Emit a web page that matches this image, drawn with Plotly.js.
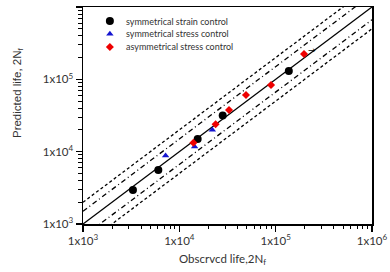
<!DOCTYPE html>
<html><head><meta charset="utf-8">
<script src="https://cdn.plot.ly/plotly-3.0.1.min.js"></script>
<style>html,body{margin:0;padding:0;background:#fff}#c{width:390px;height:272px}</style>
</head><body><div id="c"></div>
<script>
// Data
const strainX = [3300, 6050, 15500, 28200, 137000];
const strainY = [2950, 5600, 15000, 31500, 130000];
const stressX = [7200, 14400, 22000];
const stressY = [8800, 11700, 20000];
const asymX = [14000, 23800, 32800, 49200, 89500, 197000];
const asymY = [13300, 23900, 37700, 60700, 83500, 224000];
const bandFactors = [2, 1.5, 1, 1/1.5, 0.5];
const legendNames = ['symmetrical strain control', 'symmetrical stress control', 'asymmetrical stress control'];
const decades = [1e3, 1e4, 1e5, 1e6];
const decadeLabels = ['1x10<sup>3</sup>', '1x10<sup>4</sup>', '1x10<sup>5</sup>', '1x10<sup>6</sup>'];

const FONT = 'Lato, Open Sans, sans-serif';
const lineStyles = {2: '3px,2.5px', 1.5: '5px,3px,1px,3px', 1: 'solid'};
const span = [1e3, 1e6];
const traces = [];
bandFactors.forEach(f => {
  const key = f >= 1 ? f : +(1 / f).toFixed(2);
  traces.push({
    x: span, y: span.map(v => v * f), mode: 'lines', showlegend: false, hoverinfo: 'skip',
    line: {color: '#000', width: 1.3, dash: lineStyles[key]}
  });
});
const markerStyles = [
  {symbol: 'circle', size: 8, color: '#000'},
  {symbol: 'triangle-up', size: 6.5, color: '#1515d0'},
  {symbol: 'diamond', size: 6.2, color: '#ee0000'}
];
[[strainX, strainY], [stressX, stressY], [asymX, asymY]].forEach((d, i) => {
  traces.push({x: d[0], y: d[1], mode: 'markers', name: legendNames[i], showlegend: false,
    marker: markerStyles[i]});
});
// manual legend (markers on an overlay axis, labels as annotations)
const legY = [0.935, 0.876, 0.816];
const legMarkerX = 0.093, legTextX = 0.142;
legendNames.forEach((n, i) => {
  traces.push({x: [legMarkerX], y: [legY[i]], xaxis: 'x2', yaxis: 'y2', mode: 'markers',
    showlegend: false, hoverinfo: 'skip', marker: markerStyles[i]});
});

const minorVals = [];
for (let d = 1e3; d < 1e6; d *= 10) for (let k = 2; k <= 9; k++) minorVals.push(d * k);

const axisBase = {
  type: 'log', range: [3, 6], tickmode: 'array', tickvals: decades, ticktext: decadeLabels,
  ticks: 'outside', ticklen: 6, tickwidth: 1.3, tickcolor: '#000',
  showline: true, linecolor: '#000', linewidth: 1.5, mirror: true,
  showgrid: false, zeroline: false,
  tickfont: {family: FONT, size: 11.5, color: '#333'},
  minor: {tickmode: 'array', tickvals: minorVals, ticks: 'outside', ticklen: 3.5, tickwidth: 1, tickcolor: '#000', showgrid: false}
};
const annotations = legendNames.map((n, i) => ({
  x: legTextX, y: legY[i], xref: 'paper', yref: 'paper', xanchor: 'left', yanchor: 'middle',
  text: n, showarrow: false, font: {family: FONT, size: 9, color: '#333'}
}));
annotations.push({
  x: 0.484, y: -0.165, xref: 'paper', yref: 'paper', xanchor: 'center', yanchor: 'middle',
  text: 'Obscrvcd life,2N<sub>f</sub>', showarrow: false, font: {family: FONT, size: 11.5, color: '#333'}
});
annotations.push({
  x: -0.225, y: 0.608, xref: 'paper', yref: 'paper', xanchor: 'center', yanchor: 'middle', textangle: -90,
  text: 'Predicted life, 2N<sub>f</sub>', showarrow: false, font: {family: 'Liberation Sans, Arial, sans-serif', size: 11.5, color: '#333'}
});
annotations.push({
  x: Math.log10(asymX[5]), y: Math.log10(asymY[5]), xref: 'x', yref: 'y',
  xshift: 8, yshift: 4, text: '→', showarrow: false, font: {family: 'DejaVu Sans', size: 9, color: '#000'}
});

const layout = {
  width: 390, height: 272,
  margin: {l: 83, r: 18, t: 7, b: 48},
  paper_bgcolor: '#fff', plot_bgcolor: '#fff',
  font: {family: FONT, color: '#333'},
  showlegend: false,
  xaxis: axisBase,
  yaxis: axisBase,
  xaxis2: {overlaying: 'x', range: [0, 1], visible: false, fixedrange: true},
  yaxis2: {overlaying: 'y', range: [0, 1], visible: false, fixedrange: true},
  annotations: annotations
};

Plotly.newPlot('c', traces, layout, {displayModeBar: false, staticPlot: true});
</script></body></html>
